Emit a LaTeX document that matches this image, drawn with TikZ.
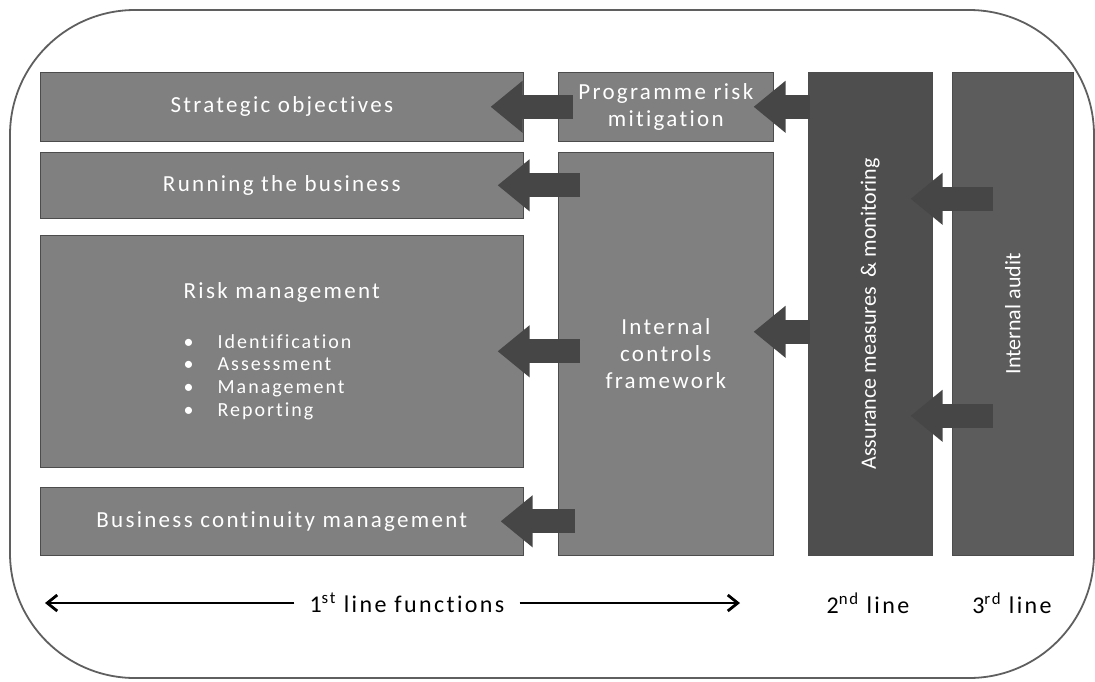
\documentclass[tikz,border=0pt]{standalone}
\usepackage{fontspec}
\setmainfont[LetterSpace=10,Ligatures=NoCommon]{Carlito}
\newfontfamily\plainfont{Carlito}
\usepackage{tikz}
\usetikzlibrary{arrows.meta}
\usetikzlibrary{positioning}
\definecolor{boxgray}{RGB}{128,128,128}
\definecolor{linegray}{RGB}{78,78,78}
\definecolor{auditgray}{RGB}{92,92,92}
\definecolor{arrowgray}{RGB}{70,70,70}
\definecolor{framegray}{RGB}{95,95,95}
\tikzstyle{box} = [rectangle, anchor=north west, fill=boxgray, draw=gray!60!black, line width=0.6pt, text=white, align=center, inner sep=0pt, font=\fontsize{23}{27}\selectfont]
\tikzstyle{wide box} = [box, minimum width=483pt]
\tikzstyle{mid box} = [box, minimum width=215pt]
\tikzstyle{line box} = [box, minimum width=124pt, minimum height=483pt]
\tikzstyle{upright} = [rotate=90, text=white, font=\plainfont\fontsize{22}{26}\selectfont]
\tikzstyle{flow} = [draw=arrowgray, line width=24pt, -{Triangle[length=32pt,width=50pt]}]
\tikzstyle{span arrow} = [draw=black, line width=2.8pt, -{Straight Barb[length=10pt,width=16pt]}]
\tikzstyle{line label} = [inner sep=0pt, font=\fontsize{24}{28}\selectfont]

\begin{document}
\begin{tikzpicture}[x=1pt,y=-1pt]
\useasboundingbox (0,0) rectangle (1095,681);

\draw[framegray, line width=1.8pt, rounded corners=125pt] (10,10) rectangle (1094,678);

 % 1st line
 \node (strategic) [wide box, minimum height=69pt] at (40,72) {Strategic objectives};
 \node (running) [wide box, minimum height=66pt] at (40,152) {Running the business};
 \node (riskmgmt) [wide box, minimum height=232pt] at (40,235) {
\begin{tabular}{@{}l@{}}
  Risk management\\[26pt]
  \fontsize{20}{22.7}\selectfont
  \begin{tabular}{@{}l@{\hspace{24pt}}l@{}}
   \textbullet & Identification\\
   \textbullet & Assessment\\
   \textbullet & Management\\
   \textbullet & Reporting
  \end{tabular}
 \end{tabular}};
 \node (continuity) [wide box, minimum height=68pt] at (40,487) {Business continuity management};
 \node (programme) [mid box, minimum height=69pt] at (558,72) {Programme risk\\mitigation};
 \node (controls) [mid box, minimum height=403pt] at (558,152) {Internal\\controls\\framework};

 % 2nd and 3rd line
 \node (assurance) [line box, fill=linegray] at (808,72) {};
 \node (audit) [line box, fill=auditgray, minimum width=121pt] at (952,72) {};
 \node (assurancetext) [upright] at (assurance.center) {Assurance measures~ \& monitoring};
 \node (audittext) [upright] at (audit.center) {Internal audit};

 % block arrows
 \draw[flow] ([xshift=15pt]programme.west) -- ([xshift=-33pt]strategic.east);
 \draw[flow] ([xshift=22pt]controls.west |- running.east) -- ([xshift=-26pt]running.east);
 \draw[flow] ([xshift=22pt]controls.west |- riskmgmt.east) -- ([xshift=-26pt]riskmgmt.east);
 \draw[flow] ([xshift=17pt]controls.west |- continuity.east) -- ([xshift=-23pt]continuity.east);
 \draw[flow] ([xshift=2pt]assurance.west |- programme.east) -- ([xshift=-20pt]programme.east);
 \draw[flow] ([xshift=2pt,yshift=22pt]assurance.west |- controls.east) -- ([xshift=-20pt,yshift=22pt]controls.east);
 \draw[flow] ([xshift=41pt,yshift=115pt]audit.west) -- ([xshift=-22pt,yshift=115pt]assurance.east);
 \draw[flow] ([xshift=41pt,yshift=-102pt]audit.west) -- ([xshift=-22pt,yshift=-102pt]assurance.east);

 % bottom labels
 \node (firstline) [line label, inner xsep=15pt] at (407,603) {1\textsuperscript{st} line functions};
 \coordinate (leftend) at (45,603);
 \coordinate (rightend) at (740,603);
 \draw[span arrow] (firstline.west) -- (leftend);
 \draw[span arrow] (firstline.east) -- (rightend);
 \node (secondline) [line label] at (868,603) {2\textsuperscript{nd} line};
 \node (thirdline) [line label] at (1012,603) {3\textsuperscript{rd} line};
\end{tikzpicture}
\end{document}
